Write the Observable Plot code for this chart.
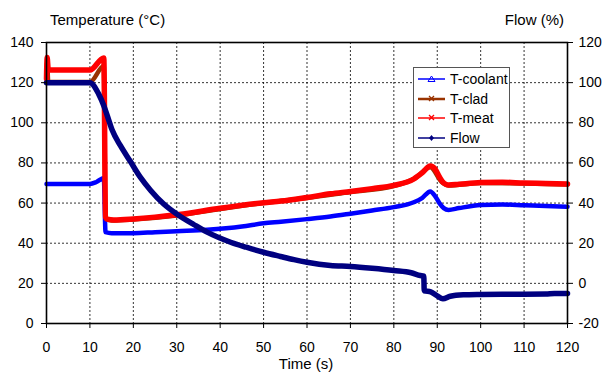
<!DOCTYPE html>
<html>
<head>
<meta charset="utf-8">
<script src="https://cdn.jsdelivr.net/npm/d3@7"></script>
<script src="https://cdn.jsdelivr.net/npm/@observablehq/plot@0.6"></script>
<style>
  html, body { margin: 0; padding: 0; background: #fff; }
  #wrap { position: relative; width: 603px; height: 373px; font-family: "Liberation Sans", Arial, sans-serif; }
  #legend { position: absolute; left: 413px; top: 67px; width: 97px; height: 81px; border: 1px solid #555; background: #fff; box-sizing: border-box; }
  #legend .item { position: absolute; left: 4px; height: 20px; display: flex; align-items: center; font-size: 14px; color: #000; }
  #legend svg { margin-right: 4px; }
</style>
</head>
<body>
<div id="wrap"><div id="legend"></div></div>
<script>
// ---- data ----
const seriesNames = ["T-coolant", "T-clad", "T-meat", "Flow"];
const seriesColors = ["#0000FF", "#993300", "#FF0000", "#000080"];

const coolantTime = [0, 10, 11.5, 13.2, 13.6, 15, 20, 25, 30, 37, 45, 50, 54, 60, 65.4, 70, 75, 80, 84.6, 86.5, 88.4, 89.5, 90.5, 91.5, 92.6, 95, 100, 105, 110, 115, 120];
const coolant     = [69.5, 69.5, 70.5, 72.5, 45.5, 45, 45, 45.5, 46, 46.7, 48.3, 49.9, 50.7, 52, 53.3, 54.7, 56.3, 58, 60.4, 62.5, 65.8, 63.5, 60, 57.5, 56.6, 57.5, 59, 59.3, 58.9, 58.5, 58.2];

const cladTime = [0, 0.15, 0.4, 10, 13.2, 13.6, 15, 20, 30, 40, 50, 60, 70, 80, 85, 88.4, 91, 92.6, 100, 110, 120];
const clad     = [122, 130, 120.3, 120.3, 128.3, 52.5, 51.3, 51.8, 53.8, 57, 60, 62.5, 65.5, 68.5, 72.5, 77.8, 70.5, 68.8, 70, 69.8, 69.3];

const meatTime = [0, 0.15, 0.4, 10, 13.2, 13.6, 14, 15.5, 20, 25, 30.5, 40, 50, 54, 60, 65.4, 70, 75, 80, 84.6, 86.5, 88.4, 89.5, 90.5, 91.5, 92.6, 95, 100, 105, 110, 115, 120];
const meat     = [122, 132.5, 126.3, 126.3, 132.3, 53, 52, 51.6, 52.1, 53, 54.3, 57.4, 60.2, 61, 62.8, 64.6, 65.8, 67.2, 68.8, 72, 75, 78.5, 77, 73, 70, 69, 69.4, 70.2, 70.4, 70, 69.8, 69.5];

const flowTime = [0, 10, 12, 13.2, 14, 15.1, 17, 19.3, 21.6, 24, 27, 30.5, 34, 37, 42.4, 46, 50, 53.9, 57, 60, 65.4, 70, 75, 80, 84, 86.1, 86.9, 87, 88.5, 90, 91.3, 93, 96, 100, 105, 110, 115, 117, 120];
const flow     = [100, 100, 94.4, 88.5, 83.5, 76.5, 68.7, 60.8, 52.9, 46.3, 39.5, 33.8, 29.2, 25.5, 20.5, 18, 15.5, 13.4, 11.8, 10.5, 8.9, 8.4, 7.5, 6.4, 5.3, 3.9, 3.6, -3.7, -4.2, -6.2, -7.7, -6.4, -5.7, -5.5, -5.4, -5.4, -5.3, -5, -5];

const xTicks = [0, 10, 20, 30, 40, 50, 60, 70, 80, 90, 100, 110, 120];
const yTicks = [0, 20, 40, 60, 80, 100, 120, 140];
const flowTicks = [-20, 0, 20, 40, 60, 80, 100, 120];
const flowOffset = 20; // right axis: Flow = Temperature - 20

// ---- tables ----
const toRows = (ts, vs) => ts.map((t, i) => ({t, v: vs[i]}));
const coolantRows = toRows(coolantTime, coolant);
const cladRows = toRows(cladTime, clad);
const meatRows = toRows(meatTime, meat);
const flowRows = toRows(flowTime, flow);

const font = "Liberation Sans, Arial, sans-serif";
const lineOpts = {x: "t", curve: "monotone-x", strokeLinejoin: "round", strokeLinecap: "round"};

const chart = Plot.plot({
  width: 603,
  height: 373,
  marginLeft: 46,
  marginRight: 36,
  marginTop: 42,
  marginBottom: 50,
  style: {fontFamily: font, fontSize: "14px", color: "#000", background: "#fff"},
  x: {domain: [0, 120]},
  y: {domain: [0, 140]},
  marks: [
    Plot.gridX(xTicks, {stroke: "#000", strokeOpacity: 0.8, strokeDasharray: "2,2"}),
    Plot.gridY(yTicks, {stroke: "#000", strokeOpacity: 0.8, strokeDasharray: "2,2"}),
    Plot.line(coolantRows, {...lineOpts, y: "v", stroke: seriesColors[0], strokeWidth: 4.5}),
    Plot.line(cladRows, {...lineOpts, y: "v", stroke: seriesColors[1], strokeWidth: 4.5}),
    Plot.line(meatRows, {...lineOpts, y: "v", stroke: seriesColors[2], strokeWidth: 5.5}),
    Plot.line(flowRows, {...lineOpts, y: d => d.v + flowOffset, stroke: seriesColors[3], strokeWidth: 5.5}),
    Plot.frame({stroke: "#000", strokeWidth: 1.6}),
    Plot.axisX(xTicks, {tickSize: 5, tickPadding: 14, label: null, stroke: "#000", fill: "#000"}),
    Plot.axisY(yTicks, {anchor: "left", tickSize: 5, tickPadding: 8, label: null, stroke: "#000", fill: "#000"}),
    Plot.axisY(flowTicks.map(f => f + flowOffset), {anchor: "right", tickSize: 5, tickPadding: 6, label: null, tickFormat: d => String(d - flowOffset), stroke: "#000", fill: "#000"})
  ]
});

document.getElementById("wrap").prepend(chart);

// axis titles
const svg = d3.select(chart);
const addText = (x, y, txt, anchor) => svg.append("text")
  .attr("x", x).attr("y", y).attr("text-anchor", anchor)
  .attr("font-family", font).attr("font-size", 15).attr("fill", "#000").text(txt);
addText(50, 25, "Temperature (°C)", "start");
addText(564, 25, "Flow (%)", "end");
addText(306, 369, "Time (s)", "middle");

// legend
const legend = document.getElementById("legend");
const markers = ["triangle", "x", "star", "diamond"];
seriesNames.forEach((name, i) => {
  const item = document.createElement("div");
  item.className = "item";
  item.style.top = (1 + i * 19.5) + "px";
  const c = seriesColors[i];
  let m = "";
  if (markers[i] === "triangle") m = `<path d="M13.5,7 L17,12.5 L10,12.5 Z" fill="none" stroke="${c}" stroke-width="1"/>`;
  else if (markers[i] === "x" || markers[i] === "star") m = `<path d="M11,7 L16,12 M16,7 L11,12" stroke="${c}" stroke-width="1.3"/>`;
  else m = `<path d="M13.5,7 L16,10 L13.5,13 L11,10 Z" fill="${c}"/>`;
  item.innerHTML = `<svg width="28" height="20"><line x1="0" x2="27" y1="10" y2="10" stroke="${c}" stroke-width="${i === 1 ? 2.5 : 1.5}"/>${m}</svg><span>${name}</span>`;
  legend.appendChild(item);
});
</script>
</body>
</html>
